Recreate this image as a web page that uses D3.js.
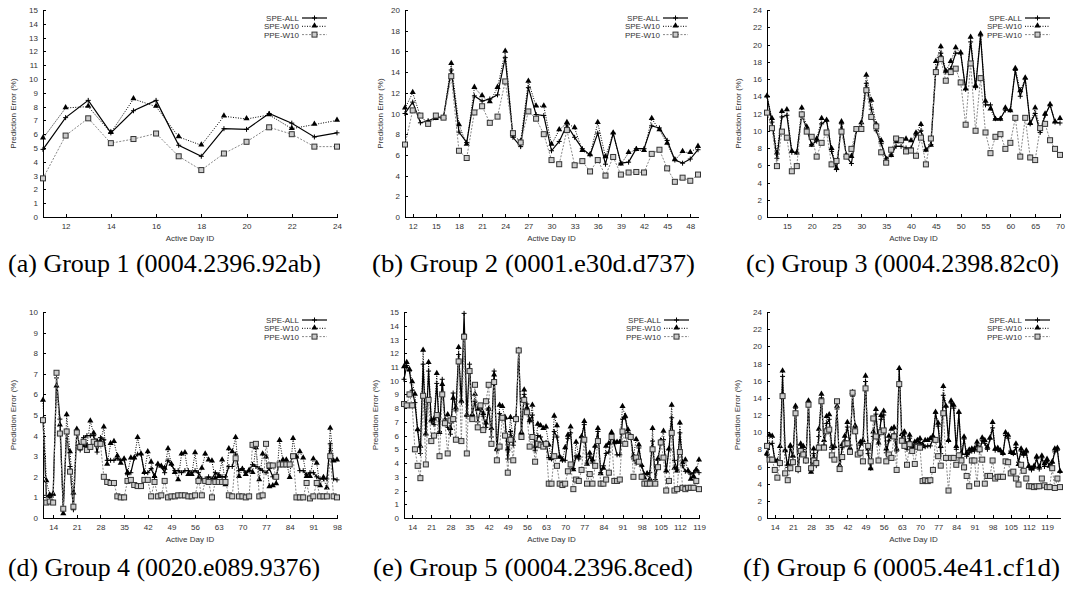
<!DOCTYPE html>
<meta charset="utf-8">
<style>
body { margin: 0; background: #fff; }
svg { display: block; }
.axis path, .axis line { stroke: #000; stroke-width: 1px; shape-rendering: crispEdges; }
.axis text { font-family: "Liberation Sans", Arial, sans-serif; font-size: 8px; fill: #333; }
.lab { font-family: "Liberation Sans", Arial, sans-serif; font-size: 8px; fill: #333; }
.cap { font-family: "Liberation Serif", "Times New Roman", serif; font-size: 26px; fill: #000; }
</style>
<body>
<script src="https://d3js.org/d3.v7.min.js"></script>
<script>

// series names (legend) and panel captions
var seriesNames = ["SPE-ALL", "SPE-W10", "PPE-W10"];
var captions = ["(a) Group 1 (0004.2396.92ab)", "(b) Group 2 (0001.e30d.d737)", "(c) Group 3 (0004.2398.82c0)",
                "(d) Group 4 (0020.e089.9376)", "(e) Group 5 (0004.2396.8ced)", "(f) Group 6 (0005.4e41.cf1d)"];

// every group starts at active day 11
var firstDay = 11;

// group 1 (days 11..24)
var g1All = [4.9, 7.2, 8.45, 6.1, 7.7, 8.45, 5.2, 4.4, 6.4, 6.35, 7.5, 6.8, 5.8, 6.1];
var g1W10 = [5.7, 7.9, 8.0, 6.1, 8.55, 8.0, 5.8, 5.2, 7.3, 7.1, 7.4, 6.4, 6.7, 7.0];
var g1Ppe = [2.8, 5.9, 7.15, 5.35, 5.65, 6.05, 4.4, 3.4, 4.6, 5.45, 6.5, 6.0, 5.1, 5.1];
var g1XTicks = [12, 14, 16, 18, 20, 22, 24];
var g1YTicks = [0, 1, 2, 3, 4, 5, 6, 7, 8, 9, 10, 11, 12, 13, 14, 15];

// group 2 (days 11..49)
var g2All = [10.0, 11.1, 9.1, 9.3, 9.6, 9.7, 14.2, 8.2, 7.2, 11.7,
  11.2, 11.4, 11.8, 15.4, 7.7, 6.8, 12.5, 9.9, 9.8, 6.4,
  7.3, 8.9, 7.7, 6.6, 6.0, 8.1, 5.1, 8.1, 5.2, 5.3,
  6.6, 6.6, 8.8, 8.6, 7.4, 5.5, 5.2, 5.6, 6.5];
var g2W10 = [10.5, 12.0, 9.7, 9.1, 9.5, 9.6, 14.8, 8.9, 7.0, 12.5,
  11.7, 11.1, 12.5, 16.0, 7.9, 7.3, 13.1, 10.7, 10.7, 7.0,
  8.4, 9.1, 8.6, 6.4, 6.0, 9.1, 5.8, 8.1, 5.1, 6.2,
  6.5, 6.4, 9.5, 8.4, 7.1, 5.5, 6.3, 6.2, 6.8];
var g2Ppe = [7.0, 10.3, 9.8, 9.0, 9.8, 9.6, 13.6, 6.4, 5.7, 10.1,
  10.7, 9.1, 9.7, 13.1, 8.1, 7.2, 10.2, 9.5, 8.0, 5.5,
  5.1, 8.4, 5.0, 5.4, 4.4, 5.5, 4.0, 5.8, 4.1, 4.3,
  4.35, 4.3, 6.1, 6.5, 4.7, 3.4, 3.8, 3.5, 4.1];
var g2XTicks = [12, 15, 18, 21, 24, 27, 30, 33, 36, 39, 42, 45, 48];
var g2YTicks = [0, 2, 4, 6, 8, 10, 12, 14, 16, 18, 20];

// group 3 (days 11..70)
var g3All = [14.0, 11.0, 6.8, 11.6, 11.8, 7.5, 7.5, 11.8, 10.2, 8.4,
  8.8, 10.8, 11.2, 7.6, 5.5, 10.8, 7.0, 6.2, 10.0, 10.5,
  15.5, 12.5, 10.0, 8.5, 6.8, 7.2, 8.2, 8.2, 8.0, 8.0,
  9.5, 10.0, 7.8, 8.4, 17.0, 19.0, 16.8, 17.2, 19.0, 19.0,
  14.8, 20.3, 15.0, 21.0, 13.0, 13.0, 11.4, 11.4, 12.4, 12.4,
  17.0, 14.0, 16.0, 10.8, 12.0, 9.8, 11.8, 13.0, 11.0, 10.9];
var g3W10 = [14.0, 11.4, 7.4, 12.2, 12.4, 7.6, 7.4, 12.6, 10.4, 8.3,
  9.0, 11.4, 11.2, 7.9, 5.6, 11.0, 7.1, 7.0, 10.1, 10.9,
  16.4, 13.5, 10.7, 8.8, 6.6, 7.1, 8.7, 8.8, 9.0, 8.8,
  9.7, 10.7, 7.7, 8.3, 18.0, 19.7, 16.9, 18.0, 19.6, 19.0,
  14.8, 20.8, 15.2, 21.2, 13.4, 12.5, 11.3, 11.3, 12.6, 12.3,
  17.2, 14.6, 16.1, 10.8, 12.6, 10.2, 11.9, 13.0, 11.0, 11.4];
var g3Ppe = [12.1, 10.3, 5.9, 9.9, 9.2, 5.3, 5.9, 11.9, 9.9, 9.3,
  7.0, 8.6, 9.8, 6.1, 6.5, 9.9, 7.0, 7.9, 10.2, 10.2,
  14.7, 11.6, 10.5, 7.5, 6.3, 7.8, 9.1, 8.9, 7.6, 7.7,
  7.1, 9.2, 6.1, 9.1, 16.8, 18.3, 15.8, 16.8, 17.2, 15.6,
  10.7, 17.8, 10.0, 16.1, 9.8, 7.4, 9.3, 9.6, 7.9, 8.6,
  11.5, 7.0, 11.5, 6.9, 6.6, 10.3, 10.8, 8.9, 7.9, 7.2];
var g3XTicks = [15, 20, 25, 30, 35, 40, 45, 50, 55, 60, 65, 70];
var g3YTicks = [0, 2, 4, 6, 8, 10, 12, 14, 16, 18, 20, 22, 24];

// group 4 (days 11..98)
var g4All = [4.8, 1.1, 1.0, 1.1, 6.8, 4.8, 0.4, 4.2, 2.5, 0.4,
  4.2, 3.3, 3.9, 4.0, 4.0, 4.0, 3.2, 3.9, 3.8, 2.8,
  2.8, 2.8, 2.9, 2.8, 2.85, 2.1, 2.2, 2.9, 3.1, 3.1,
  2.2, 2.2, 2.4, 2.0, 2.6, 2.5, 2.2, 2.8, 2.6, 2.3,
  2.3, 2.2, 2.3, 2.3, 2.2, 2.3, 2.2, 1.9, 1.9, 2.0,
  1.9, 2.2, 2.1, 2.0, 2.0, 2.5, 2.5, 3.1, 2.3, 2.4,
  2.2, 2.3, 2.6, 2.5, 2.4, 2.3, 2.2, 2.4, 2.0, 2.0,
  2.7, 2.7, 2.7, 2.6, 3.0, 3.0, 2.3, 2.3, 2.1, 2.2,
  2.2, 2.0, 1.9, 1.9, 1.9, 3.6, 1.9, 1.85];
var g4W10 = [5.7, 1.8, 1.1, 1.15, 6.4, 4.5, 0.2, 5.0, 3.2, 1.2,
  4.3, 3.4, 3.5, 3.5, 4.7, 4.1, 3.7, 3.7, 4.4, 2.6,
  3.6, 3.7, 3.0, 2.65, 2.85, 2.2, 2.9, 2.9, 3.9, 3.1,
  2.2, 3.2, 2.7, 2.0, 2.6, 2.5, 2.4, 3.35, 2.6, 2.2,
  1.85, 3.1, 3.15, 2.1, 2.1, 3.15, 1.9, 2.4, 3.1, 2.8,
  2.75, 1.9, 2.0, 2.8, 1.6, 3.35, 3.2, 3.9, 2.0, 2.35,
  2.1, 2.3, 2.2, 3.4, 1.85, 3.1, 2.95, 1.5, 1.55, 1.65,
  3.75, 2.8, 2.8, 1.95, 3.85, 2.95, 3.2, 2.9, 2.0, 2.0,
  2.85, 2.65, 1.55, 1.95, 1.45, 4.35, 2.75, 2.8];
var g4Ppe = [4.75, 0.75, 0.8, 0.75, 7.05, 4.1, 0.45, 4.2, 2.25, 0.55,
  4.15, 3.45, 3.7, 3.3, 3.45, 3.7, 3.6, 3.6, 2.0, 1.75,
  1.7, 1.7, 1.05, 1.0, 1.0, 1.8, 1.85, 1.6, 1.55, 1.55,
  1.85, 1.85, 1.05, 1.75, 1.05, 1.1, 1.8, 1.0, 1.05, 1.05,
  1.1, 1.1, 1.1, 1.05, 1.05, 1.1, 1.8, 1.1, 1.8, 1.75,
  1.0, 1.75, 1.75, 1.75, 1.75, 1.1, 1.05, 2.9, 1.05, 1.05,
  1.0, 1.05, 3.55, 3.6, 1.05, 1.1, 3.6, 2.55, 2.55, 2.0,
  2.6, 2.6, 2.6, 2.6, 3.0, 1.0, 1.0, 1.0, 1.7, 0.95,
  1.05, 1.7, 1.05, 1.05, 1.05, 3.0, 1.05, 1.0];
var g4XTicks = [14, 21, 28, 35, 42, 49, 56, 63, 70, 77, 84, 91, 98];
var g4YTicks = [0, 1, 2, 3, 4, 5, 6, 7, 8, 9, 10];

// group 5 (days 11..119)
var g5All = [10.1, 11.1, 10.7, 9.3, 8.4, 6.4, 4.7, 11.2, 6.1, 10.7,
  7.0, 6.8, 9.8, 6.3, 10.1, 7.2, 6.6, 6.1, 9.1, 7.8,
  11.9, 8.4, 14.9, 7.4, 11.2, 7.5, 8.5, 7.0, 7.9, 7.4,
  6.6, 8.0, 5.9, 10.7, 4.9, 7.6, 7.3, 7.2, 4.3, 6.3,
  5.3, 7.2, 12.2, 6.1, 9.0, 8.3, 7.0, 7.5, 4.9, 6.0,
  5.9, 5.4, 5.5, 4.4, 4.3, 6.3, 5.9, 4.5, 4.2, 4.2,
  5.8, 6.2, 3.6, 4.5, 4.3, 5.9, 6.8, 4.0, 4.5, 4.0,
  5.2, 6.3, 3.3, 3.8, 4.7, 4.8, 6.1, 5.4, 4.6, 4.6,
  7.2, 7.3, 6.2, 6.0, 4.3, 4.0, 5.1, 3.8, 3.2, 3.2,
  3.3, 5.6, 2.8, 4.2, 5.5, 5.7, 3.4, 5.0, 7.3, 4.2,
  3.5, 6.2, 3.8, 3.4, 3.4, 3.2, 3.3, 3.5, 3.3];
var g5W10 = [11.0, 11.3, 10.8, 9.9, 9.0, 6.4, 5.2, 12.2, 6.1, 11.3,
  7.1, 7.2, 10.5, 6.2, 9.7, 7.0, 7.5, 6.5, 8.7, 8.0,
  12.4, 8.5, 13.3, 7.5, 10.6, 7.5, 9.0, 7.9, 8.0, 7.6,
  6.9, 7.9, 6.5, 10.4, 5.0, 8.2, 8.1, 7.3, 5.0, 7.3,
  5.6, 7.3, 12.2, 6.2, 9.3, 8.0, 7.1, 8.2, 5.2, 6.8,
  6.7, 6.5, 6.6, 5.3, 4.3, 7.4, 6.7, 4.4, 4.2, 5.1,
  6.0, 6.6, 3.5, 5.5, 4.5, 5.9, 7.0, 3.9, 4.7, 4.2,
  5.2, 6.5, 3.2, 3.6, 5.2, 5.4, 6.2, 5.5, 5.5, 5.5,
  8.1, 7.4, 6.4, 5.9, 4.5, 5.7, 5.3, 3.8, 2.9, 3.2,
  2.8, 6.5, 2.5, 4.3, 5.6, 6.3, 3.4, 5.0, 8.2, 3.6,
  3.4, 6.9, 4.0, 4.2, 3.4, 2.8, 3.0, 3.5, 4.2];
var g5Ppe = [8.3, 8.2, 9.0, 8.2, 5.0, 3.8, 2.9, 8.9, 3.9, 8.6,
  5.6, 6.0, 7.5, 4.5, 9.0, 6.9, 4.7, 7.1, 7.2, 5.7,
  11.4, 5.6, 13.2, 4.7, 10.7, 7.2, 9.7, 6.6, 8.2, 6.4,
  8.5, 9.7, 5.4, 9.9, 4.2, 5.2, 7.3, 6.0, 3.3, 5.7,
  4.2, 7.2, 12.2, 5.9, 8.6, 7.7, 5.2, 5.9, 4.1, 5.4,
  5.3, 5.2, 5.4, 2.5, 2.5, 4.5, 3.8, 2.5, 2.4, 2.5,
  3.4, 3.9, 2.1, 2.8, 2.7, 3.5, 5.7, 2.5, 3.2, 2.5,
  3.8, 5.6, 2.5, 2.5, 2.8, 3.3, 5.9, 2.7, 2.7, 2.8,
  6.3, 5.4, 6.0, 5.9, 3.0, 4.4, 4.1, 3.0, 2.5, 2.5,
  2.5, 5.0, 2.5, 3.7, 5.5, 4.4, 2.0, 2.7, 6.2, 2.0,
  2.1, 4.8, 2.2, 2.1, 2.2, 2.2, 2.2, 2.7, 2.1];
var g5XTicks = [14, 21, 28, 35, 42, 49, 56, 63, 70, 77, 84, 91, 98, 105, 112, 119];
var g5YTicks = [0, 1, 2, 3, 4, 5, 6, 7, 8, 9, 10, 11, 12, 13, 14, 15];

// group 6 (days 11..124)
var g6All = [7.3, 8.6, 8.7, 6.8, 6.6, 6.5, 16.5, 7.9, 5.9, 8.2,
  7.1, 12.8, 5.5, 8.5, 8.0, 6.6, 13.4, 5.5, 7.5, 6.1,
  9.5, 14.0, 8.5, 11.0, 11.5, 8.0, 8.2, 12.7, 5.9, 8.2,
  9.0, 10.6, 8.5, 14.2, 10.5, 7.5, 8.5, 8.7, 15.9, 7.5,
  5.8, 9.5, 12.1, 8.7, 11.5, 12.0, 7.6, 9.0, 9.5, 9.8,
  7.8, 17.3, 9.3, 9.8, 8.0, 9.3, 8.2, 8.5, 8.5, 8.8,
  8.2, 8.3, 8.4, 8.4, 9.2, 12.2, 10.7, 7.5, 14.3, 13.0,
  9.0, 13.4, 12.8, 8.0, 12.2, 7.0, 9.2, 7.2, 7.6, 7.8,
  7.8, 8.5, 7.8, 9.0, 8.7, 8.0, 9.2, 10.5, 7.9, 8.0,
  7.8, 7.5, 9.6, 9.3, 7.8, 7.5, 8.2, 6.5, 7.8, 7.3,
  7.6, 5.9, 5.6, 5.8, 6.9, 5.7, 7.0, 6.0, 6.6, 6.0,
  6.4, 7.7, 7.9, 5.4];
var g6W10 = [7.5, 9.6, 9.5, 6.6, 6.6, 8.3, 17.1, 7.8, 6.2, 8.4,
  7.2, 13.0, 5.6, 8.6, 8.3, 6.8, 13.6, 5.3, 8.0, 6.3,
  10.3, 14.4, 9.0, 11.8, 12.0, 8.3, 8.3, 13.0, 6.1, 8.5,
  9.5, 11.1, 8.1, 14.6, 10.7, 7.4, 8.8, 9.0, 16.5, 8.0,
  5.7, 10.0, 12.6, 8.7, 11.9, 12.4, 8.0, 9.5, 10.3, 10.5,
  8.0, 17.4, 9.7, 10.0, 8.5, 9.6, 8.3, 8.8, 9.0, 9.2,
  8.5, 9.0, 9.0, 9.2, 9.5, 12.3, 11.0, 8.3, 15.3, 13.0,
  9.0, 13.6, 13.1, 8.3, 12.3, 7.5, 9.4, 7.5, 7.9, 8.0,
  8.0, 8.8, 8.0, 9.3, 9.0, 8.2, 9.3, 11.1, 8.0, 8.1,
  7.8, 7.5, 9.9, 9.6, 7.6, 7.5, 8.6, 6.2, 8.0, 7.5,
  7.8, 6.0, 5.7, 6.0, 7.1, 5.9, 7.2, 6.3, 6.8, 6.0,
  6.5, 8.0, 8.1, 5.4];
var g6Ppe = [8.4, 6.8, 6.8, 5.6, 4.7, 6.4, 14.2, 5.2, 4.4, 5.8,
  6.5, 12.2, 5.7, 7.8, 7.4, 6.7, 13.2, 5.8, 6.7, 6.4,
  8.2, 13.6, 8.2, 10.1, 10.3, 7.3, 6.8, 13.6, 5.7, 7.1,
  8.6, 8.7, 7.7, 14.6, 10.1, 7.4, 7.6, 6.6, 15.1, 8.4,
  6.6, 11.6, 9.5, 6.7, 10.0, 10.2, 6.6, 7.4, 7.0, 9.5,
  5.6, 15.6, 9.0, 8.4, 6.2, 8.6, 7.8, 6.3, 8.3, 8.2,
  4.3, 4.4, 4.3, 4.4, 5.6, 9.1, 7.2, 6.1, 12.2, 7.0,
  3.2, 7.0, 7.0, 6.2, 7.3, 6.7, 5.9, 4.9, 3.7, 6.7,
  6.7, 4.0, 8.0, 6.8, 4.0, 4.9, 4.9, 6.7, 4.6, 4.8,
  4.8, 4.8, 6.6, 6.5, 5.2, 5.4, 4.6, 3.9, 6.2, 5.5,
  4.6, 3.7, 3.7, 3.6, 3.7, 3.7, 4.6, 3.8, 3.6, 3.6,
  5.8, 3.5, 4.6, 3.6];
var g6XTicks = [14, 21, 28, 35, 42, 49, 56, 63, 70, 77, 84, 91, 98, 105, 112, 119];
var g6YTicks = [0, 2, 4, 6, 8, 10, 12, 14, 16, 18, 20, 22, 24];

// panel layout (pixel boxes)
var panels = [
  {series: [g1All, g1W10, g1Ppe], xMax: 24,  xTicks: g1XTicks, yTicks: g1YTicks, left: 43,  right: 337,  top: 10,  bottom: 217, ttl: 30, cap: [8, 321]},
  {series: [g2All, g2W10, g2Ppe], xMax: 49,  xTicks: g2XTicks, yTicks: g2YTicks, left: 405, right: 698,  top: 10,  bottom: 217, ttl: 25, cap: [372, 695]},
  {series: [g3All, g3W10, g3Ppe], xMax: 70,  xTicks: g3XTicks, yTicks: g3YTicks, left: 767, right: 1060, top: 10,  bottom: 217, ttl: 29, cap: [746, 1059]},
  {series: [g4All, g4W10, g4Ppe], xMax: 98,  xTicks: g4XTicks, yTicks: g4YTicks, left: 43,  right: 337,  top: 312, bottom: 518, ttl: 30, cap: [8, 320]},
  {series: [g5All, g5W10, g5Ppe], xMax: 119, xTicks: g5XTicks, yTicks: g5YTicks, left: 404, right: 699,  top: 312, bottom: 518, ttl: 29, cap: [373, 693]},
  {series: [g6All, g6W10, g6Ppe], xMax: 124, xTicks: g6XTicks, yTicks: g6YTicks, left: 767, right: 1060, top: 312, bottom: 518, ttl: 30, cap: [743, 1060]}
];

// line styles: solid black / dotted black / dashed gray
var styles = [
  {stroke: "#000", width: 1.2, dash: null},
  {stroke: "#000", width: 1, dash: "1,1.5"},
  {stroke: "#888", width: 1, dash: "2,1.5"}
];

var svg = d3.select("body").append("svg")
    .attr("width", 1068)
    .attr("height", 591);

function drawMarker(g, type, cx, cy) {
  if (type == 0) {
    g.append("path")
      .attr("d", "M" + (cx - 2.5) + "," + cy + "H" + (cx + 2.5) + "M" + cx + "," + (cy - 2.5) + "V" + (cy + 2.5))
      .attr("stroke", "#000").attr("stroke-width", 1).attr("fill", "none");
  } else if (type == 1) {
    g.append("path")
      .attr("d", d3.symbol(d3.symbolTriangle, 16)())
      .attr("transform", "translate(" + cx + "," + (cy - 0.5) + ")")
      .attr("fill", "#000");
  } else {
    g.append("rect")
      .attr("x", cx - 2.5).attr("y", cy - 2.5)
      .attr("width", 5).attr("height", 5)
      .attr("fill", "#ccc").attr("stroke", "#333").attr("stroke-width", 1);
  }
}

panels.forEach(function(p, pi) {
  var x = d3.scaleLinear().domain([firstDay, p.xMax]).range([p.left, p.right]);
  var y = d3.scaleLinear().domain([0, p.yTicks[p.yTicks.length - 1]]).range([p.bottom, p.top]);

  var g = svg.append("g");

  // axes, ticks pointing inward
  g.append("g")
      .attr("class", "axis")
      .attr("transform", "translate(" + p.left + ",0)")
      .call(d3.axisLeft(y).tickValues(p.yTicks).tickSizeInner(-3).tickSizeOuter(0).tickPadding(5));

  g.append("g")
      .attr("class", "axis")
      .attr("transform", "translate(0," + p.bottom + ")")
      .call(d3.axisBottom(x).tickValues(p.xTicks).tickSizeInner(-3).tickSizeOuter(0).tickPadding(6));

  // axis titles
  g.append("text")
      .attr("class", "lab")
      .attr("text-anchor", "middle")
      .attr("x", (p.left + p.right) / 2)
      .attr("y", p.bottom + 24)
      .text("Active Day ID");

  g.append("text")
      .attr("class", "lab")
      .attr("text-anchor", "middle")
      .attr("transform", "translate(" + (p.left - p.ttl + 3) + "," + ((p.top + p.bottom) / 2) + ") rotate(-90)")
      .text("Prediction Error (%)");

  // the three series
  p.series.forEach(function(vals, si) {
    var st = styles[si];
    var line = d3.line()
        .x(function(d, i) { return x(firstDay + i); })
        .y(function(d) { return y(d); });

    g.append("path")
        .datum(vals)
        .attr("fill", "none")
        .attr("stroke", st.stroke)
        .attr("stroke-width", st.width)
        .attr("stroke-dasharray", st.dash)
        .attr("d", line);

    var mg = g.append("g");
    vals.forEach(function(v, i) {
      drawMarker(mg, si, x(firstDay + i), y(v));
    });
  });

  // legend
  seriesNames.forEach(function(name, si) {
    var ly = p.top + 8 + si * 8.3;
    var st = styles[si];
    g.append("text")
        .attr("class", "lab")
        .attr("text-anchor", "end")
        .attr("x", p.right - 38)
        .attr("y", ly + 3)
        .text(name);
    g.append("line")
        .attr("x1", p.right - 35).attr("x2", p.right - 10)
        .attr("y1", ly).attr("y2", ly)
        .attr("stroke", st.stroke)
        .attr("stroke-width", st.width)
        .attr("stroke-dasharray", st.dash);
    drawMarker(g, si, p.right - 22.5, ly);
  });

  // caption under the panel
  g.append("text")
      .attr("class", "cap")
      .attr("x", p.cap[0])
      .attr("y", p.bottom + (pi < 3 ? 55 : 58))
      .attr("textLength", p.cap[1] - p.cap[0])
      .attr("lengthAdjust", "spacingAndGlyphs")
      .text(captions[pi]);
});

</script>
</body>
